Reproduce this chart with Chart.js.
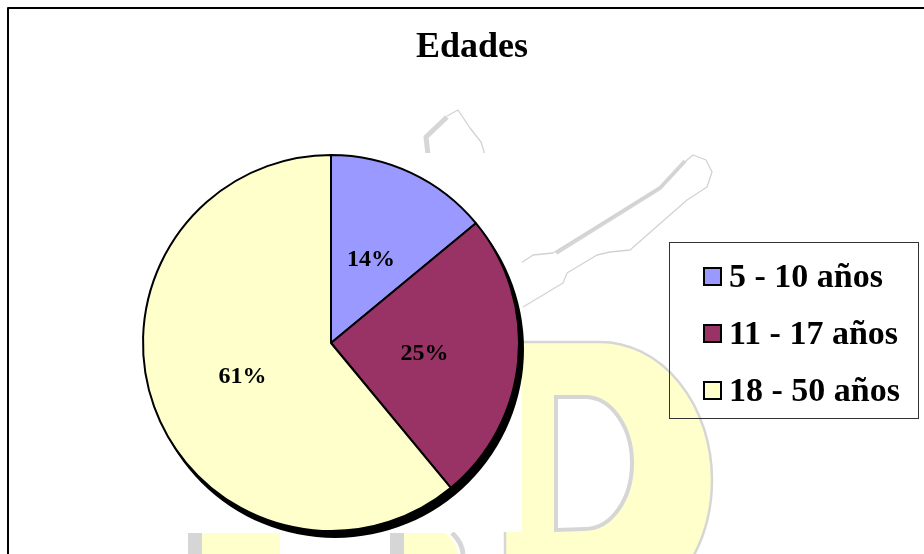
<!DOCTYPE html>
<html lang="es">
<head>
<meta charset="utf-8">
<title>Edades</title>
<script src="https://cdn.jsdelivr.net/npm/chart.js@4.4.1/dist/chart.umd.min.js"></script>
<style>
  html, body { margin: 0; padding: 0; background: #fff; }
  #wrap { position: relative; width: 924px; height: 554px; }
</style>
</head>
<body>
<div id="wrap"><canvas id="chart-edades" width="924" height="554"></canvas></div>
<script>
// --- Data ---
var chartTitle = 'Edades';
var ageLabels = ['5 - 10 años', '11 - 17 años', '18 - 50 años'];
var agePercents = [14, 25, 61];
var sliceColors = ['#9999FF', '#993366', '#FFFFCC'];

(function () {
  'use strict';

  var SERIF = '"Liberation Serif", "Times New Roman", serif';

  // Background logo (watermark) + outer frame + white plot area
  function drawWatermark(ctx) {
    var grey = '#d6d6d6';
    var pale = '#ffffcc';
    ctx.save();

    // big "D"
    ctx.beginPath();
    ctx.moveTo(505, 560);
    ctx.lineTo(505, 342);
    ctx.lineTo(600, 342);
    ctx.ellipse(600, 480, 112, 138, 0, -Math.PI / 2, 0.62);
    ctx.closePath();
    ctx.fillStyle = pale;
    ctx.fill();
    ctx.lineWidth = 2.5;
    ctx.strokeStyle = grey;
    ctx.stroke();

    // hollow of the "D"
    ctx.beginPath();
    ctx.moveTo(556, 530);
    ctx.lineTo(556, 397);
    ctx.lineTo(585, 397);
    ctx.ellipse(585, 463, 47, 66, 0, -Math.PI / 2, Math.PI / 2);
    ctx.closePath();
    ctx.fillStyle = '#fff';
    ctx.fill();
    ctx.lineWidth = 4;
    ctx.strokeStyle = grey;
    ctx.stroke();

    // letters peeking out under the plot area
    ctx.fillStyle = grey;
    ctx.fillRect(188, 533, 14, 21);
    ctx.fillRect(390, 533, 14, 21);
    ctx.fillStyle = pale;
    ctx.fillRect(202, 533, 78, 21);
    ctx.beginPath();
    ctx.moveTo(404, 554);
    ctx.lineTo(404, 533);
    ctx.lineTo(445, 533);
    ctx.quadraticCurveTo(456, 540, 458, 554);
    ctx.closePath();
    ctx.fill();
    ctx.lineWidth = 5;
    ctx.strokeStyle = grey;
    ctx.beginPath();
    ctx.moveTo(452, 533);
    ctx.quadraticCurveTo(462, 542, 463, 554);
    ctx.stroke();

    // island outline (thin) with shaded upper edge (thick)
    ctx.lineJoin = 'round';
    ctx.lineWidth = 5;
    ctx.strokeStyle = grey;
    ctx.beginPath();
    ctx.moveTo(428, 155);
    ctx.lineTo(426, 137);
    ctx.lineTo(447, 117);
    ctx.stroke();
    ctx.lineWidth = 4;
    ctx.beginPath();
    ctx.moveTo(556, 253);
    ctx.lineTo(660, 188);
    ctx.lineTo(685, 161);
    ctx.stroke();

    ctx.lineWidth = 1.3;
    ctx.strokeStyle = '#d2d2d2';
    ctx.beginPath();
    ctx.moveTo(447, 116);
    ctx.lineTo(458, 110);
    ctx.lineTo(470, 128);
    ctx.lineTo(481, 142);
    ctx.lineTo(485, 155);
    ctx.stroke();
    ctx.beginPath();
    ctx.moveTo(521, 263);
    ctx.lineTo(533, 255);
    ctx.lineTo(553, 253);
    ctx.lineTo(660, 188);
    ctx.lineTo(687, 160);
    ctx.lineTo(693, 155);
    ctx.lineTo(706, 160);
    ctx.lineTo(712, 172);
    ctx.lineTo(707, 187);
    ctx.lineTo(687, 200);
    ctx.lineTo(630, 250);
    ctx.lineTo(610, 252);
    ctx.lineTo(597, 255);
    ctx.lineTo(567, 273);
    ctx.lineTo(563, 283);
    ctx.lineTo(523, 307);
    ctx.stroke();

    // plot area is plain white
    ctx.fillStyle = '#fff';
    ctx.fillRect(135, 153, 387, 379);

    // chart frame
    ctx.lineWidth = 2;
    ctx.strokeStyle = '#000';
    ctx.strokeRect(8, 8, 940, 570);
    ctx.restore();
  }

  var backgroundPlugin = {
    id: 'backgroundLogo',
    beforeDraw: function (chart) {
      drawWatermark(chart.ctx);
    }
  };

  // Title is centred on the whole frame, not on the pie
  var frameTitlePlugin = {
    id: 'frameTitle',
    afterDraw: function (chart) {
      var ctx = chart.ctx;
      ctx.save();
      ctx.font = 'bold 36px ' + SERIF;
      ctx.fillStyle = '#000';
      ctx.textAlign = 'center';
      ctx.textBaseline = 'alphabetic';
      ctx.fillText(chartTitle, 472, 57);
      ctx.restore();
    }
  };

  // Black drop shadow behind the pie, offset down-right
  var pieShadowPlugin = {
    id: 'pieShadow',
    beforeDatasetsDraw: function (chart) {
      var arc = chart.getDatasetMeta(0).data[0];
      if (!arc) return;
      var ctx = chart.ctx;
      ctx.save();
      ctx.fillStyle = '#000';
      ctx.beginPath();
      ctx.arc(arc.x + 4, arc.y + 6, arc.outerRadius + 1, 0, Math.PI * 2);
      ctx.fill();
      ctx.restore();
    }
  };

  // Percent labels in the middle of each slice
  var sliceLabelPlugin = {
    id: 'sliceLabels',
    afterDatasetsDraw: function (chart) {
      var ctx = chart.ctx;
      var values = chart.data.datasets[0].data;
      var total = values.reduce(function (a, b) { return a + b; }, 0);
      ctx.save();
      ctx.font = 'bold 24px ' + SERIF;
      ctx.fillStyle = '#000';
      ctx.textAlign = 'center';
      ctx.textBaseline = 'alphabetic';
      chart.getDatasetMeta(0).data.forEach(function (arc, i) {
        var pos = arc.tooltipPosition();
        var pct = Math.round(values[i] / total * 100) + '%';
        ctx.fillText(pct, pos.x, pos.y + 8);
      });
      ctx.restore();
    }
  };

  // Boxed legend on the right, the way the spreadsheet draws it
  var boxedLegendPlugin = {
    id: 'boxedLegend',
    afterDraw: function (chart) {
      var ctx = chart.ctx;
      var ds = chart.data.datasets[0];
      ctx.save();
      ctx.lineWidth = 1;
      ctx.strokeStyle = '#333';
      ctx.strokeRect(669.5, 242.5, 249, 176);
      ctx.font = 'bold 34px ' + SERIF;
      ctx.textAlign = 'left';
      ctx.textBaseline = 'alphabetic';
      chart.data.labels.forEach(function (label, i) {
        var y = 276 + i * 57;
        ctx.fillStyle = ds.backgroundColor[i];
        ctx.fillRect(704, y - 8, 17, 17);
        ctx.lineWidth = 2;
        ctx.strokeStyle = '#000';
        ctx.strokeRect(704, y - 8, 17, 17);
        ctx.fillStyle = '#000';
        ctx.fillText(label, 729, y + 11);
      });
      ctx.restore();
    }
  };

  new Chart(document.getElementById('chart-edades').getContext('2d'), {
    type: 'pie',
    data: {
      labels: ageLabels,
      datasets: [{
        data: agePercents,
        backgroundColor: sliceColors,
        borderColor: '#000',
        borderWidth: 2,
      }],
    },
    options: {
      responsive: false,
      animation: false,
      layout: { padding: { left: 142, right: 404, top: 154, bottom: 22 } },
      plugins: {
        legend: { display: false },
        tooltip: { enabled: false },
        title: { display: false },
      },
    },
    plugins: [backgroundPlugin, pieShadowPlugin, sliceLabelPlugin, boxedLegendPlugin, frameTitlePlugin],
  });
})();
</script>
</body>
</html>
